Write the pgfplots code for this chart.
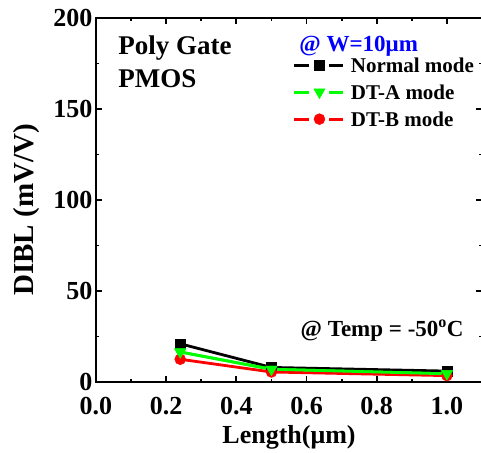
\documentclass[border=0pt]{standalone}
\usepackage{fontspec}
\setmainfont{Liberation Serif}
\usepackage{pgfplots}
\pgfplotsset{compat=1.18}
\usepackage{pgfplotstable}
\definecolor{ggreen}{RGB}{0,255,0}
\definecolor{rred}{RGB}{255,0,0}
\definecolor{bblue}{RGB}{0,0,255}

\pgfplotstableread{
x y
0.24 21
0.5 8
1.0 6
}\normaldata
\pgfplotstableread{
x y
0.24 16.5
0.5 7
1.0 4.5
}\dtadata
\pgfplotstableread{
x y
0.24 12.5
0.5 5.5
1.0 3.5
}\dtbdata

\begin{document}
\begin{tikzpicture}
\begin{axis}[
  scale only axis, width=386pt, height=364pt,
  xmin=0, xmax=1.1, ymin=0, ymax=200,
  xtick={0,0.2,0.4,0.6,0.8,1.0}, minor x tick num=1,
  ytick={0,50,100,150,200}, minor y tick num=1,
  tick align=inside, major tick length=6pt, minor tick length=3pt,
  axis line style={line width=2.5pt},
  every tick/.style={line width=1.8pt, black},
  /pgf/number format/assume math mode=true,
  ticklabel style={font=\fontsize{26}{30}\selectfont\bfseries},
  xticklabel style={yshift=-12pt, /pgf/number format/.cd, fixed, fixed zerofill, precision=1},
  yticklabel style={/pgf/number format/.cd, fixed, precision=0},
  xlabel={Length(μm)},
  ylabel={DIBL (mV/V)},
  label style={font=\fontsize{26}{30}\selectfont\bfseries},
  x label style={at={(axis description cs:0.5,0)}, anchor=base, yshift=-61pt},
  y label style={at={(axis description cs:-0.181,0.4725)}, anchor=center, font=\fontsize{29}{32}\selectfont\bfseries},
  legend style={draw=none, fill=none, inner sep=0pt,
    at={(rel axis cs:0.510,0.893)}, anchor=north west,
    font=\fontsize{21}{25}\selectfont\bfseries,
    nodes={inner sep=0pt, text height=15pt, text depth=5pt, anchor=base west},
    row sep=7pt},
  legend cell align=left,
  legend image code/.code={
    \draw[#1] (0pt,7pt) -- (15pt,7pt);
    \draw[#1] (35pt,7pt) -- (49pt,7pt);
    \draw[#1, only marks] plot coordinates {(25pt,7pt)};
    \path (55pt,7pt);
  },
  clip=false,
]
\addplot[black, line width=2.8pt, mark=square*, mark size=5pt, mark options={solid, line width=0.4pt}] table[x=x,y=y] {\normaldata};
\addlegendentry{Normal mode}
\addplot[ggreen, line width=2.8pt, mark=triangle*, mark size=6.5pt, mark options={solid, rotate=180, line width=0.4pt}] table[x=x,y=y] {\dtadata};
\addlegendentry{DT-A mode}
\addplot[rred, line width=2.8pt, mark=*, mark size=5.5pt, mark options={solid, line width=0.4pt}] table[x=x,y=y] {\dtbdata};
\addlegendentry{DT-B mode}
\addplot[ggreen, line width=2.8pt, mark=triangle*, mark size=6.5pt, mark options={solid, rotate=180, line width=0.4pt}, forget plot] table[x=x,y=y] {\dtadata};

\node[anchor=base west, font=\fontsize{27}{30}\selectfont\bfseries] at (rel axis cs:0.049,0.901) {Poly Gate};
\node[anchor=base west, font=\fontsize{27}{30}\selectfont\bfseries] at (rel axis cs:0.049,0.808) {PMOS};
\node[anchor=base west, font=\fontsize{23}{28}\selectfont\bfseries, text=bblue] at (rel axis cs:0.518,0.909) {@ W=10μm};
\node[anchor=base west, font=\fontsize{23}{28}\selectfont\bfseries] at (rel axis cs:0.521,0.124) {@ Temp = -50\textsuperscript{o}C};
\end{axis}
\pgfresetboundingbox
\useasboundingbox (current axis.south west) ++(-96pt,-70pt) rectangle ++(481pt,452pt);
\end{tikzpicture}
\end{document}
